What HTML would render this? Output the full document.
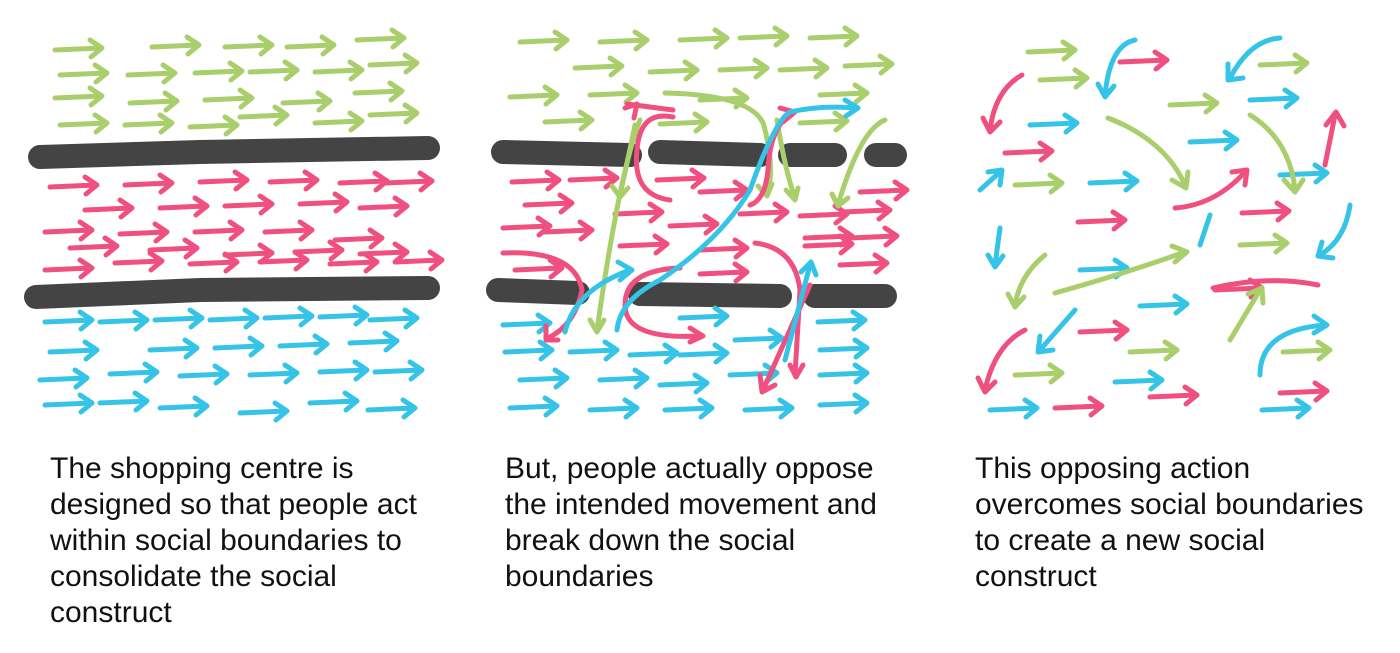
<!DOCTYPE html>
<html><head><meta charset="utf-8"><style>
html,body{margin:0;padding:0;background:#fff;width:1400px;height:653px;overflow:hidden}
.t{position:absolute;font-family:"Liberation Sans",Arial,sans-serif;font-size:30px;line-height:36px;color:#111}
svg{position:absolute;left:0;top:0}
</style></head><body>
<svg width="1400" height="653" viewBox="0 0 1400 653">
<defs>
<g id="a" fill="none" stroke-width="5" stroke-linecap="round" stroke-linejoin="round"><path d="M0,0 L46,-2 M35,-10 L47,-2 L36,7"/></g>
<g id="g" stroke="#a9cf6c"><use href="#a"/></g>
<g id="p" stroke="#f0507f"><use href="#a"/></g>
<g id="c" stroke="#35c4e8"><use href="#a"/></g>
</defs>
<!-- Panel 1 -->
<g stroke="#444" stroke-width="24" stroke-linecap="round" fill="none">
<path d="M40,157 L200,152 L428,148"/>
<path d="M36,297 L200,290 L428,288"/>
</g>
<g>
<use href="#g" x="55" y="50"/><use href="#g" x="152" y="47"/><use href="#g" x="225" y="47"/><use href="#g" x="287" y="47"/><use href="#g" x="357" y="40"/>
<use href="#g" x="60" y="75"/><use href="#g" x="128" y="75"/><use href="#g" x="195" y="73"/><use href="#g" x="250" y="72"/><use href="#g" x="315" y="72"/><use href="#g" x="370" y="65"/>
<use href="#g" x="55" y="98"/><use href="#g" x="130" y="103"/><use href="#g" x="205" y="100"/><use href="#g" x="283" y="103"/><use href="#g" x="355" y="93"/>
<use href="#g" x="60" y="125"/><use href="#g" x="125" y="125"/><use href="#g" x="190" y="127"/><use href="#g" x="240" y="117"/><use href="#g" x="315" y="123"/><use href="#g" x="370" y="115"/>
<use href="#p" x="50" y="187"/><use href="#p" x="125" y="185"/><use href="#p" x="200" y="182"/><use href="#p" x="270" y="182"/><use href="#p" x="340" y="183"/><use href="#p" x="385" y="183"/>
<use href="#p" x="85" y="210"/><use href="#p" x="160" y="208"/><use href="#p" x="225" y="206"/><use href="#p" x="300" y="204"/><use href="#p" x="360" y="208"/>
<use href="#p" x="45" y="232"/><use href="#p" x="120" y="234"/><use href="#p" x="195" y="232"/><use href="#p" x="265" y="232"/><use href="#p" x="335" y="240"/>
<use href="#p" x="70" y="248"/><use href="#p" x="150" y="250"/><use href="#p" x="225" y="255"/><use href="#p" x="295" y="252"/><use href="#p" x="360" y="254"/>
<use href="#p" x="45" y="270"/><use href="#p" x="115" y="263"/><use href="#p" x="190" y="264"/><use href="#p" x="260" y="262"/><use href="#p" x="330" y="264"/><use href="#p" x="395" y="262"/>
<use href="#c" x="45" y="322"/><use href="#c" x="100" y="322"/><use href="#c" x="155" y="320"/><use href="#c" x="210" y="320"/><use href="#c" x="265" y="318"/><use href="#c" x="320" y="317"/><use href="#c" x="370" y="320"/>
<use href="#c" x="50" y="352"/><use href="#c" x="150" y="350"/><use href="#c" x="215" y="348"/><use href="#c" x="280" y="346"/><use href="#c" x="350" y="343"/>
<use href="#c" x="40" y="380"/><use href="#c" x="110" y="374"/><use href="#c" x="180" y="376"/><use href="#c" x="250" y="375"/><use href="#c" x="320" y="372"/><use href="#c" x="375" y="372"/>
<use href="#c" x="45" y="405"/><use href="#c" x="100" y="403"/><use href="#c" x="160" y="408"/><use href="#c" x="240" y="413"/><use href="#c" x="310" y="403"/><use href="#c" x="368" y="410"/>
</g>
<!-- Panel 2 -->
<g>
<use href="#g" x="520" y="42"/><use href="#g" x="600" y="42"/><use href="#g" x="680" y="40"/><use href="#g" x="740" y="38"/><use href="#g" x="810" y="38"/>
<use href="#g" x="510" y="97"/><use href="#g" x="590" y="95"/><use href="#g" x="575" y="68"/><use href="#g" x="650" y="72"/><use href="#g" x="720" y="70"/><use href="#g" x="780" y="70"/><use href="#g" x="845" y="66"/>
<use href="#g" x="545" y="122"/><use href="#g" x="660" y="124"/><use href="#g" x="800" y="123"/><use href="#g" x="820" y="95"/><use href="#g" x="700" y="100"/>
</g>
<g stroke="#444" stroke-width="24" stroke-linecap="round" fill="none">
<path d="M503,152 L630,155"/><path d="M660,152 L760,155"/><path d="M790,155 L835,155"/><path d="M876,155 L895,155"/>
<path d="M498,290 L578,293"/><path d="M640,294 L780,296"/><path d="M815,296 L885,296"/>
</g>
<g>
<use href="#p" x="512" y="182"/><use href="#p" x="570" y="180"/><use href="#p" x="657" y="180"/><use href="#p" x="700" y="192"/><use href="#p" x="860" y="192"/>
<use href="#p" x="525" y="205"/><use href="#p" x="615" y="214"/><use href="#p" x="740" y="214"/><use href="#p" x="800" y="216"/><use href="#p" x="843" y="212"/>
<use href="#p" x="503" y="228"/><use href="#p" x="545" y="232"/><use href="#p" x="670" y="226"/><use href="#p" x="805" y="238"/><use href="#p" x="850" y="238"/>
<use href="#p" x="620" y="246"/><use href="#p" x="700" y="250"/><use href="#p" x="805" y="246"/>
<use href="#p" x="515" y="270"/><use href="#p" x="700" y="274"/><use href="#p" x="840" y="265"/>
<use href="#c" x="503" y="325"/><use href="#c" x="680" y="318"/><use href="#c" x="818" y="322"/>
<use href="#c" x="505" y="352"/><use href="#c" x="570" y="352"/><use href="#c" x="630" y="355"/><use href="#c" x="680" y="355"/><use href="#c" x="735" y="340"/><use href="#c" x="820" y="350"/>
<use href="#c" x="520" y="380"/><use href="#c" x="600" y="380"/><use href="#c" x="660" y="385"/><use href="#c" x="730" y="375"/><use href="#c" x="820" y="375"/>
<use href="#c" x="510" y="408"/><use href="#c" x="590" y="410"/><use href="#c" x="665" y="410"/><use href="#c" x="745" y="410"/><use href="#c" x="820" y="405"/>
</g>
<g fill="none" stroke-width="5" stroke-linecap="round" stroke-linejoin="round">
<path stroke="#a9cf6c" d="M665,93 Q760,95 765,130 Q775,170 767,195 M758,186 L767,196 L772,184"/>
<path stroke="#a9cf6c" d="M640,120 Q620,170 597,330 M590,320 L597,332 L604,320"/>
<path stroke="#a9cf6c" d="M635,125 Q630,150 620,195 M612,186 L620,197 L628,188"/>
<path stroke="#a9cf6c" d="M777,120 Q785,170 795,198 M786,190 L795,200 L798,188"/>
<path stroke="#a9cf6c" d="M885,120 Q860,130 838,205 M832,194 L838,206 L848,198"/>
<path stroke="#f0507f" d="M673,117 Q640,110 637,150 Q632,195 670,200 M625,108 L637,104 L634,118 M627,104 L673,110"/>
<path stroke="#f0507f" d="M788,116 Q770,130 768,170 Q765,200 750,205 M780,108 L795,112 L783,122"/>
<path stroke="#f0507f" d="M503,253 Q575,250 582,290 Q575,325 548,338 M546,326 L546,340 L558,340"/>
<path stroke="#f0507f" d="M680,268 Q625,270 625,305 Q625,340 700,336 M690,328 L703,336 L690,342"/>
<path stroke="#f0507f" d="M755,243 Q795,248 800,290 L795,375 M790,365 L796,377 L803,365"/>
<path stroke="#f0507f" d="M810,285 L763,390 M760,375 L762,392 L775,385"/>
<path stroke="#35c4e8" d="M565,332 Q575,290 630,270 M618,262 L632,270 L620,280"/>
<path stroke="#35c4e8" d="M617,330 Q620,300 660,280 Q720,240 750,190 Q775,120 790,112 Q820,105 857,108 M845,100 L858,108 L846,116"/>
<path stroke="#35c4e8" d="M785,360 L810,265 M801,272 L811,262 L816,275"/>
</g>
<!-- Panel 3 -->
<g>
<use href="#g" x="1028" y="52"/><use href="#g" x="1040" y="80"/><use href="#g" x="1260" y="65"/><use href="#g" x="1170" y="105"/>
<use href="#c" x="1030" y="125"/><use href="#c" x="1250" y="100"/><use href="#c" x="1190" y="142"/><use href="#c" x="1080" y="270"/><use href="#c" x="1140" y="306"/><use href="#c" x="1115" y="382"/><use href="#c" x="1280" y="175"/>
<use href="#p" x="1120" y="62"/><use href="#p" x="1005" y="153"/><use href="#p" x="1078" y="222"/><use href="#p" x="1242" y="213"/><use href="#p" x="1080" y="332"/><use href="#p" x="1215" y="290"/><use href="#p" x="1280" y="393"/><use href="#p" x="1150" y="397"/><use href="#p" x="1055" y="408"/>
<use href="#g" x="1015" y="185"/><use href="#g" x="1240" y="245"/><use href="#g" x="1130" y="352"/><use href="#g" x="1283" y="352"/><use href="#g" x="1015" y="375"/>
<use href="#c" x="990" y="410"/><use href="#c" x="1262" y="410"/><use href="#c" x="1090" y="183"/>
</g>
<g fill="none" stroke-width="5" stroke-linecap="round" stroke-linejoin="round">
<path stroke="#35c4e8" d="M1135,40 Q1110,45 1105,95 M1098,84 L1105,97 L1114,86"/>
<path stroke="#35c4e8" d="M1280,38 Q1250,40 1230,78 M1228,64 L1228,80 L1243,78"/>
<path stroke="#f0507f" d="M1022,75 Q995,90 990,130 M983,118 L990,132 L1000,122"/>
<path stroke="#a9cf6c" d="M1108,118 Q1165,140 1185,185 M1172,180 L1186,188 L1188,172"/>
<path stroke="#a9cf6c" d="M1250,115 Q1290,140 1295,190 M1284,180 L1295,192 L1303,180"/>
<path stroke="#f0507f" d="M1325,165 L1335,115 M1326,125 L1336,112 L1344,126"/>
<path stroke="#35c4e8" d="M980,190 L1000,172 M988,172 L1002,170 L1000,185"/>
<path stroke="#f0507f" d="M1175,208 Q1215,205 1245,172 M1232,172 L1247,170 L1245,185"/>
<path stroke="#35c4e8" d="M1350,205 Q1345,240 1320,255 M1322,242 L1318,256 L1333,258"/>
<path stroke="#35c4e8" d="M1000,228 L995,265 M988,255 L995,267 L1003,256"/>
<path stroke="#35c4e8" d="M1210,215 L1200,245"/>
<path stroke="#a9cf6c" d="M1045,255 Q1020,275 1015,305 M1008,294 L1015,307 L1024,297"/>
<path stroke="#a9cf6c" d="M1055,293 Q1120,275 1185,252 M1172,246 L1187,252 L1175,262"/>
<path stroke="#35c4e8" d="M1075,310 L1040,350 M1040,336 L1038,352 L1053,350"/>
<path stroke="#f0507f" d="M1025,330 Q995,345 985,390 M978,378 L985,392 L995,382"/>
<path stroke="#a9cf6c" d="M1230,340 L1260,290 M1248,294 L1262,288 L1263,303"/>
<path stroke="#35c4e8" d="M1260,375 Q1260,330 1325,325 M1314,316 L1327,325 L1314,333"/>
<path stroke="#f0507f" d="M1213,288 Q1270,275 1318,285"/>
</g>
</svg>
<div class="t" style="left:50px;top:451px">The shopping centre is<br>designed so that people act<br>within social boundaries to<br>consolidate the social<br>construct</div>
<div class="t" style="left:505px;top:451px">But, people actually oppose<br>the intended movement and<br>break down the social<br>boundaries</div>
<div class="t" style="left:975px;top:451px">This opposing action<br>overcomes social boundaries<br>to create a new social<br>construct</div>
</body></html>
